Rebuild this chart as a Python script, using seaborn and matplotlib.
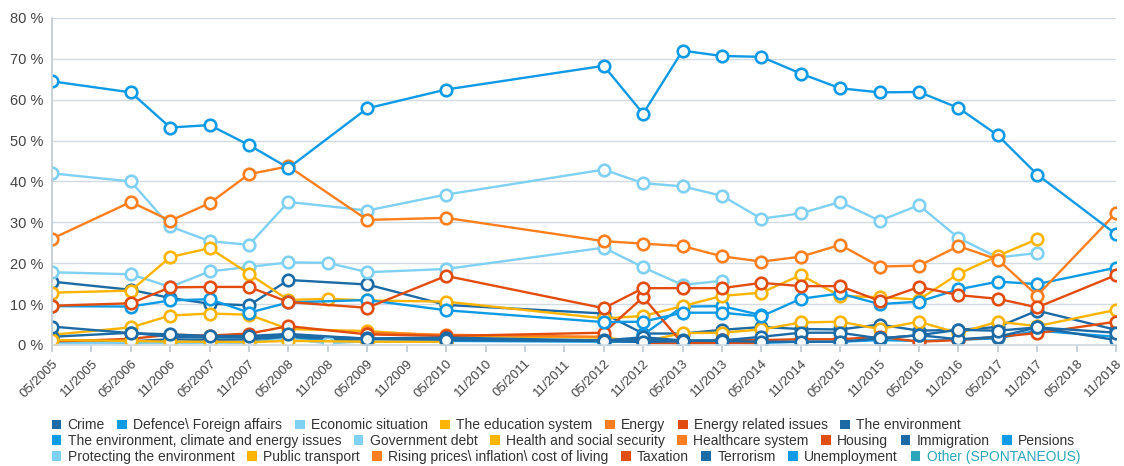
import numpy as np
import pandas as pd
import matplotlib
matplotlib.use("Agg")
import matplotlib.pyplot as plt
from matplotlib.patches import Patch
import seaborn as sns

N = np.nan

tick_labels = ["05/2005", "11/2005", "05/2006", "11/2006", "05/2007", "11/2007", "05/2008",
               "11/2008", "05/2009", "11/2009", "05/2010", "11/2010", "05/2011", "11/2011",
               "05/2012", "11/2012", "05/2013", "11/2013", "05/2014", "11/2014", "05/2015",
               "11/2015", "05/2016", "11/2016", "05/2017", "11/2017", "05/2018", "11/2018"]

survey_dates = ["05/2005", "05/2006", "11/2006", "05/2007", "11/2007", "05/2008", "11/2008",
                "05/2009", "05/2010", "05/2012", "11/2012", "05/2013", "11/2013", "05/2014",
                "11/2014", "05/2015", "11/2015", "05/2016", "11/2016", "05/2017", "11/2017",
                "11/2018"]

crime = [15.5, 13.5, 11.5, 10.1, 9.7, 15.9, N, 14.8, 9.8, 7.7, 2.8, 2.8, 3.7, 4.4, 3.9, 3.8, 5.0, 3.5, 3.7, 4.4, 8.4, 3.7]
defence = [0.4, 0.5, 0.6, 0.8, 0.8, 1.6, N, 1.0, 1.0, 0.8, 0.8, 0.6, 0.6, 0.5, 0.8, 0.8, 1.2, 1.0, 1.3, 1.6, 3.5, 2.0]
economic = [42.0, 40.0, 29.0, 25.4, 24.5, 35.0, N, 32.9, 36.8, 42.9, 39.6, 38.8, 36.5, 30.9, 32.2, 35.0, 30.4, 34.2, 26.2, 21.4, 22.5, N]
education = [2.5, 4.3, 7.2, 7.7, 7.4, 3.9, N, 3.4, 2.2, 1.8, 0.8, 2.9, 3.0, 3.8, 5.5, 5.7, 3.9, 5.7, 2.9, 5.7, 4.6, 8.6]
energy = [N, N, N, N, N, N, N, 3.0, 2.5, 2.0, N, N, N, N, N, N, N, N, N, N, N, N]
energy_related = [N, N, N, N, N, N, N, N, N, N, 0.5, 0.3, 0.5, 0.4, N, N, N, N, N, N, N, N]
environment = [1.2, 0.9, 1.4, 1.2, 1.4, 2.0, N, 1.2, 1.2, 1.1, 1.3, 1.0, 1.1, 1.0, N, N, N, N, N, N, N, N]
env_climate = [N, N, N, N, N, N, N, N, N, N, 2.5, 9.4, 9.5, 7.3, N, N, N, N, N, N, N, N]
gov_debt = [17.8, 17.3, 14.2, 18.0, 19.1, 20.2, 20.1, 17.8, 18.6, 23.8, 19.0, 14.7, 15.7, N, N, N, N, N, N, N, N, N]
health = [12.8, 13.3, 21.5, 23.7, 17.4, 11.0, 11.3, 10.9, 10.6, 6.5, 7.1, 9.5, 12.0, 12.8, 17.1, 12.0, 11.7, 11.1, 17.4, 21.8, 25.9, N]
healthcare = [N] * 22
housing = [0.8, 1.5, 2.5, 2.3, 2.8, 4.6, N, 2.6, 2.2, 3.0, 11.7, 0.4, 1.2, 1.2, 1.4, 1.4, 2.0, 0.8, 1.2, 2.0, 2.9, 5.7]
immigration = [2.0, 3.0, 2.0, 1.8, 1.9, 2.3, N, 1.6, 1.8, 1.1, 1.9, 1.1, 1.1, 2.0, 3.0, 3.0, 1.6, 2.4, 1.4, 2.0, 4.3, 1.2]
pensions = [9.5, 9.4, 10.9, 11.2, 7.9, 10.4, N, 11.0, 8.5, 5.6, 5.7, 7.9, 7.9, 7.0, 11.3, 12.6, 10.0, 10.6, 13.6, 15.5, 14.9, 18.9]
protecting = [0.3, 0.6, 0.4, 0.6, 0.5, 1.5, 0.4, 0.9, 0.9, N, N, N, N, N, N, N, N, N, N, N, N, N]
public_transport = [1.2, 1.0, 0.8, 0.8, 0.7, 1.0, N, 0.8, 0.8, N, N, N, N, N, N, N, N, N, N, N, N, N]
rising = [26.0, 35.0, 30.4, 34.7, 41.8, 43.7, N, 30.6, 31.1, 25.4, 24.8, 24.2, 21.7, 20.4, 21.6, 24.5, 19.2, 19.4, 24.2, 20.9, 12.1, 32.3]
taxation = [9.6, 10.2, 14.1, 14.2, 14.2, 10.5, N, 9.1, 16.9, 9.0, 13.9, 13.9, 13.9, 15.2, 14.4, 14.4, 10.8, 14.2, 12.2, 11.3, 9.2, 17.1]
terrorism = [4.5, 2.9, 2.6, 2.2, 2.2, 2.7, N, 1.5, 1.3, 1.0, 0.7, 1.0, 1.0, 0.8, 0.8, 0.8, 1.6, 2.4, 3.7, 3.5, 4.3, 3.0]
unemployment = [64.5, 61.8, 53.2, 53.8, 48.9, 43.3, N, 57.9, 62.5, 68.3, 56.6, 72.0, 70.7, 70.5, 66.4, 62.8, 61.8, 61.9, 58.0, 51.3, 41.7, 27.1]
other = [N] * 22

DB, B, LB, Y, O, R, T = "#1c6aa6", "#0f9ae6", "#7fd0f2", "#ffb400", "#ff7f1e", "#e24c0e", "#2ba7b9"

series = [
    ("Crime", crime, DB),
    ("Defence\\ Foreign affairs", defence, B),
    ("Economic situation", economic, LB),
    ("The education system", education, Y),
    ("Energy", energy, O),
    ("Energy related issues", energy_related, R),
    ("The environment", environment, DB),
    ("The environment, climate and energy issues", env_climate, B),
    ("Government debt", gov_debt, LB),
    ("Health and social security", health, Y),
    ("Healthcare system", healthcare, O),
    ("Housing", housing, R),
    ("Immigration", immigration, DB),
    ("Pensions", pensions, B),
    ("Protecting the environment", protecting, LB),
    ("Public transport", public_transport, Y),
    ("Rising prices\\ inflation\\ cost of living", rising, O),
    ("Taxation", taxation, R),
    ("Terrorism", terrorism, DB),
    ("Unemployment", unemployment, B),
    ("Other (SPONTANEOUS)", other, T),
]

rows = []
for name, vals, _ in series:
    for d, v in zip(survey_dates, vals):
        if not np.isnan(v):
            rows.append({"pos": tick_labels.index(d), "value": v, "series": name})
df = pd.DataFrame(rows)
names = [s[0] for s in series]
palette = {s[0]: s[2] for s in series}
plotted = [n for n in names if n in set(df["series"])]

sns.set_theme(style="white")
plt.rcParams["font.family"] = ["Liberation Sans", "DejaVu Sans"]

fig = plt.figure(figsize=(11.24, 4.66), dpi=100)
ax = fig.add_axes([0.0463, 0.2597, 0.9466, 0.7017])

sns.lineplot(data=df, x="pos", y="value", hue="series", hue_order=plotted, palette=palette,
             marker="o", markersize=8.3, markeredgewidth=1.9, markerfacecolor="white",
             linewidth=1.7, errorbar=None, legend=False, ax=ax)
for line in ax.lines:
    line.set_markeredgecolor(line.get_color())
    line.set_markerfacecolor("white")

ax.set_xlim(0, len(tick_labels) - 1)
ax.set_ylim(0, 80)
ax.set_yticks(range(0, 81, 10))
ax.set_yticklabels([f"{v} %" for v in range(0, 81, 10)], fontsize=10.5, color="#444444")
ax.set_xticks(range(len(tick_labels)))
ax.set_xticklabels(tick_labels, rotation=45, ha="right", rotation_mode="anchor",
                   fontsize=9.5, color="#444444")
ax.set_xlabel("")
ax.set_ylabel("")
ax.grid(axis="y", color="#d3dbe2", linewidth=1)
ax.grid(axis="x", visible=False)
ax.set_axisbelow(True)
for s in ["top", "right"]:
    ax.spines[s].set_visible(False)
ax.spines["left"].set_color("#c3ccd4")
ax.spines["bottom"].set_color("#d3dbe2")
ax.tick_params(axis="y", length=0, pad=6)
ax.tick_params(axis="x", length=5, color="#c3ccd4", pad=4, bottom=True)

row_y = [0.087, 0.054, 0.020]
for r in range(3):
    chunk = series[r * 7:(r + 1) * 7]
    handles = [Patch(facecolor=c, edgecolor="none") for _, _, c in chunk]
    labels = [n for n, _, _ in chunk]
    leg = fig.legend(handles, labels, loc="center left", bbox_to_anchor=(0.046, row_y[r]),
                     ncol=7, frameon=False, fontsize=10, handlelength=0.7, handleheight=0.7,
                     handletextpad=0.45, columnspacing=0.9, borderaxespad=0, borderpad=0)
    for txt, (n, _, c) in zip(leg.get_texts(), chunk):
        txt.set_color(T if n.startswith("Other") else "#333333")

fig.savefig("out.png", dpi=100)
